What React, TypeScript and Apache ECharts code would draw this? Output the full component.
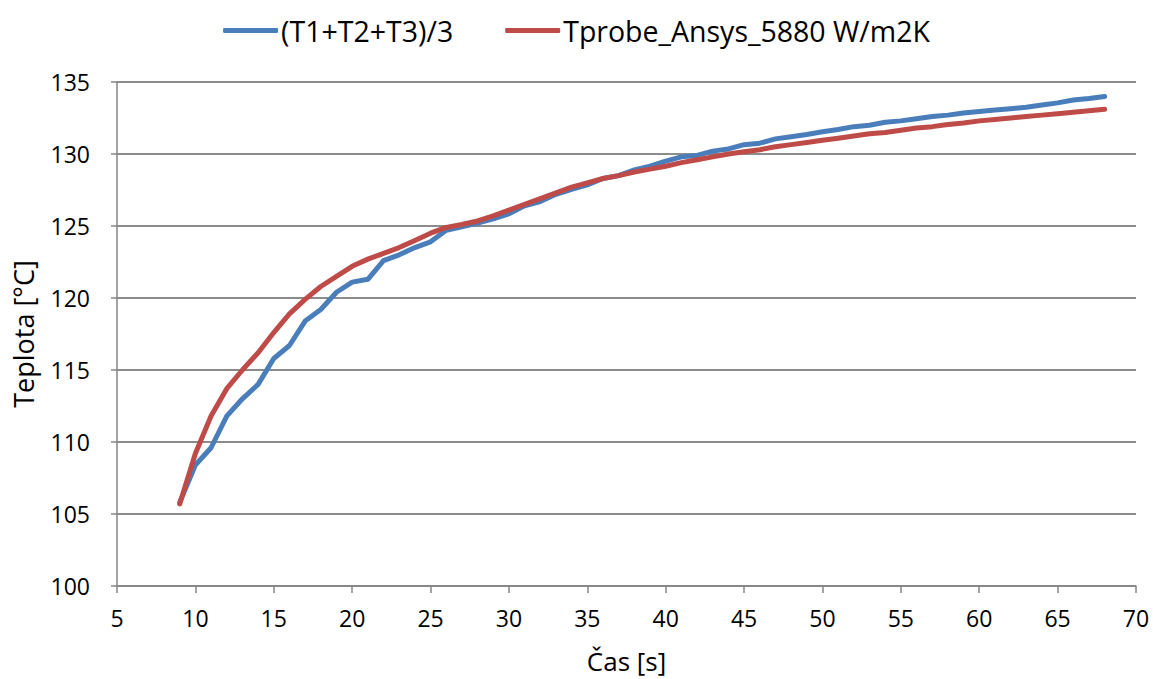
import React, { useEffect, useRef } from "react";
import * as echarts from "echarts";

const timeSec = [9, 10, 11, 12, 13, 14, 15, 16, 17, 18, 19, 20, 21, 22, 23, 24, 25, 26, 27, 28, 29, 30, 31, 32, 33, 34, 35, 36, 37, 38, 39, 40, 41, 42, 43, 44, 45, 46, 47, 48, 49, 50, 51, 52, 53, 54, 55, 56, 57, 58, 59, 60, 61, 62, 63, 64, 65, 66, 67, 68];

const measuredAvg = [105.8, 108.4, 109.6, 111.8, 113.0, 114.0, 115.8, 116.7, 118.4, 119.2, 120.4, 121.1, 121.3, 122.6, 123.0, 123.5, 123.9, 124.7, 124.95, 125.2, 125.5, 125.85, 126.4, 126.7, 127.2, 127.55, 127.85, 128.3, 128.5, 128.9, 129.15, 129.5, 129.8, 129.9, 130.2, 130.35, 130.65, 130.75, 131.05, 131.2, 131.35, 131.55, 131.7, 131.9, 132.0, 132.2, 132.3, 132.45, 132.6, 132.7, 132.85, 132.95, 133.05, 133.15, 133.25, 133.4, 133.55, 133.75, 133.85, 134.0];

const ansysProbe = [105.7, 109.2, 111.8, 113.7, 115.0, 116.2, 117.6, 118.9, 119.9, 120.8, 121.5, 122.2, 122.7, 123.1, 123.5, 124.0, 124.5, 124.9, 125.1, 125.35, 125.7, 126.1, 126.5, 126.9, 127.3, 127.7, 128.0, 128.3, 128.5, 128.75, 128.95, 129.15, 129.4, 129.6, 129.8, 130.0, 130.15, 130.3, 130.5, 130.65, 130.8, 130.95, 131.1, 131.25, 131.4, 131.5, 131.65, 131.8, 131.9, 132.05, 132.15, 132.3, 132.4, 132.5, 132.6, 132.7, 132.8, 132.9, 133.0, 133.1];

const seriesNames = ["(T1+T2+T3)/3", "Tprobe_Ansys_5880 W/m2K"];
const xAxisTitle = "Čas [s]";
const yAxisTitle = "Teplota [°C]";

const FONT = "'Open Sans', sans-serif";

export default function App() {
  const ref = useRef<HTMLDivElement>(null);

  useEffect(() => {
    if (!ref.current) return;
    const chart = echarts.init(ref.current, null, { renderer: "svg" });
    const pair = (ys: number[]) => timeSec.map((t, i) => [t, ys[i]]);
    chart.setOption({
      animation: false,
      backgroundColor: "#ffffff",
      textStyle: { fontFamily: FONT },
      legend: {
        top: 11,
        left: "center",
        itemWidth: 55,
        itemHeight: 5,
        itemGap: 52,
        icon: "roundRect",
        textStyle: { fontSize: 28.5, color: "#000", fontFamily: FONT, padding: [0, 0, 0, -2] },
        data: seriesNames,
      },
      grid: { left: 117, right: 17, top: 82, bottom: 93, containLabel: false },
      xAxis: {
        type: "value",
        min: 5,
        max: 70,
        interval: 5,
        name: xAxisTitle,
        nameLocation: "middle",
        nameGap: 62,
        nameTextStyle: { fontSize: 26, color: "#000", fontFamily: FONT },
        axisLine: { show: true, lineStyle: { color: "#868686", width: 1.5 } },
        axisTick: { show: true, length: 7, lineStyle: { color: "#868686", width: 1.5 } },
        axisLabel: { fontSize: 23, color: "#000", margin: 20, fontFamily: FONT },
        splitLine: { show: false },
      },
      yAxis: {
        type: "value",
        min: 100,
        max: 135,
        interval: 5,
        name: yAxisTitle,
        nameLocation: "middle",
        nameGap: 80,
        nameRotate: 90,
        nameTextStyle: { fontSize: 27, color: "#000", fontFamily: FONT },
        axisLine: { show: true, lineStyle: { color: "#868686", width: 1.5 } },
        axisTick: { show: true, length: 6, lineStyle: { color: "#868686", width: 1.5 } },
        axisLabel: { fontSize: 23, color: "#000", margin: 27, fontFamily: FONT },
        splitLine: { show: true, lineStyle: { color: "#8c8c8c", width: 2 } },
      },
      series: [
        {
          name: seriesNames[0],
          type: "line",
          data: pair(measuredAvg),
          showSymbol: false,
          symbol: "none",
          lineStyle: { color: "#4A7EBB", width: 5, cap: "round", join: "round" },
          itemStyle: { color: "#4A7EBB" },
          z: 2,
        },
        {
          name: seriesNames[1],
          type: "line",
          data: pair(ansysProbe),
          showSymbol: false,
          symbol: "none",
          lineStyle: { color: "#BE4B48", width: 5, cap: "round", join: "round" },
          itemStyle: { color: "#BE4B48" },
          z: 3,
        },
      ],
    });
    return () => chart.dispose();
  }, []);

  return (
    <div
      ref={ref}
      style={{ position: "fixed", left: 0, top: 0, width: 1153, height: 679 }}
    />
  );
}
